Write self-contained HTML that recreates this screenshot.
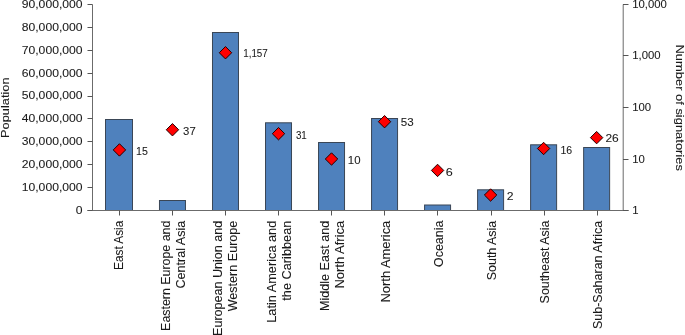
<!DOCTYPE html>
<html><head><meta charset="utf-8"><style>html,body{margin:0;padding:0;background:#fff;width:685px;height:335px;overflow:hidden}svg{display:block}</style></head>
<body>
<svg width="685" height="335" viewBox="0 0 685 335">
<rect width="685" height="335" fill="#fff"/>
<rect x="105.50" y="119.50" width="27.00" height="91.00" fill="#4f81bd" stroke="#3a4656" stroke-width="1"/>
<rect x="159.47" y="200.50" width="26.00" height="10.00" fill="#4f81bd" stroke="#3a4656" stroke-width="1"/>
<rect x="212.49" y="32.50" width="26.00" height="178.00" fill="#4f81bd" stroke="#3a4656" stroke-width="1"/>
<rect x="265.51" y="122.80" width="26.00" height="87.70" fill="#4f81bd" stroke="#3a4656" stroke-width="1"/>
<rect x="318.53" y="142.50" width="26.00" height="68.00" fill="#4f81bd" stroke="#3a4656" stroke-width="1"/>
<rect x="371.55" y="118.50" width="26.00" height="92.00" fill="#4f81bd" stroke="#3a4656" stroke-width="1"/>
<rect x="424.57" y="205.00" width="26.00" height="5.50" fill="#4f81bd" stroke="#3a4656" stroke-width="1"/>
<rect x="477.59" y="189.80" width="26.00" height="20.70" fill="#4f81bd" stroke="#3a4656" stroke-width="1"/>
<rect x="530.61" y="144.80" width="26.00" height="65.70" fill="#4f81bd" stroke="#3a4656" stroke-width="1"/>
<rect x="583.63" y="147.50" width="26.00" height="63.00" fill="#4f81bd" stroke="#3a4656" stroke-width="1"/>
<g stroke="#6b6b6b" stroke-width="1" fill="none">
<line x1="92.5" y1="4.5" x2="92.5" y2="210.5"/>
<line x1="623.2" y1="4.5" x2="623.2" y2="210.5"/>
<line x1="87.5" y1="210.5" x2="628.5" y2="210.5"/>
</g><g stroke="#555" stroke-width="1" fill="none">
<line x1="87.5" y1="4.50" x2="92.5" y2="4.50"/>
<line x1="87.5" y1="27.50" x2="92.5" y2="27.50"/>
<line x1="87.5" y1="50.50" x2="92.5" y2="50.50"/>
<line x1="87.5" y1="73.50" x2="92.5" y2="73.50"/>
<line x1="87.5" y1="96.50" x2="92.5" y2="96.50"/>
<line x1="87.5" y1="118.50" x2="92.5" y2="118.50"/>
<line x1="87.5" y1="141.50" x2="92.5" y2="141.50"/>
<line x1="87.5" y1="164.50" x2="92.5" y2="164.50"/>
<line x1="87.5" y1="187.50" x2="92.5" y2="187.50"/>
<line x1="87.5" y1="210.50" x2="92.5" y2="210.50"/>
<line x1="623.0" y1="4.50" x2="628.5" y2="4.50"/>
<line x1="623.0" y1="55.50" x2="628.5" y2="55.50"/>
<line x1="623.0" y1="107.50" x2="628.5" y2="107.50"/>
<line x1="623.0" y1="159.50" x2="628.5" y2="159.50"/>
<line x1="623.0" y1="210.50" x2="628.5" y2="210.50"/>
<line x1="119.50" y1="210.5" x2="119.50" y2="215.5"/>
<line x1="172.50" y1="210.5" x2="172.50" y2="215.5"/>
<line x1="225.50" y1="210.5" x2="225.50" y2="215.5"/>
<line x1="278.50" y1="210.5" x2="278.50" y2="215.5"/>
<line x1="331.50" y1="210.5" x2="331.50" y2="215.5"/>
<line x1="384.50" y1="210.5" x2="384.50" y2="215.5"/>
<line x1="437.50" y1="210.5" x2="437.50" y2="215.5"/>
<line x1="491.50" y1="210.5" x2="491.50" y2="215.5"/>
<line x1="544.50" y1="210.5" x2="544.50" y2="215.5"/>
<line x1="597.50" y1="210.5" x2="597.50" y2="215.5"/>
</g>
<path d="M119.45 143.73L125.65 149.93L119.45 156.13L113.25 149.93Z" fill="#ff0000" stroke="#220000" stroke-width="1"/>
<path d="M172.47 123.54L178.67 129.74L172.47 135.94L166.27 129.74Z" fill="#ff0000" stroke="#220000" stroke-width="1"/>
<path d="M225.49 46.54L231.69 52.74L225.49 58.94L219.29 52.74Z" fill="#ff0000" stroke="#220000" stroke-width="1"/>
<path d="M278.51 127.49L284.71 133.69L278.51 139.89L272.31 133.69Z" fill="#ff0000" stroke="#220000" stroke-width="1"/>
<path d="M331.53 152.80L337.73 159.00L331.53 165.20L325.33 159.00Z" fill="#ff0000" stroke="#220000" stroke-width="1"/>
<path d="M384.55 115.50L390.75 121.70L384.55 127.90L378.35 121.70Z" fill="#ff0000" stroke="#220000" stroke-width="1"/>
<path d="M437.57 164.23L443.77 170.43L437.57 176.63L431.37 170.43Z" fill="#ff0000" stroke="#220000" stroke-width="1"/>
<path d="M490.59 188.80L496.79 195.00L490.59 201.20L484.39 195.00Z" fill="#ff0000" stroke="#220000" stroke-width="1"/>
<path d="M543.61 142.29L549.81 148.49L543.61 154.69L537.41 148.49Z" fill="#ff0000" stroke="#220000" stroke-width="1"/>
<path d="M596.63 131.43L602.83 137.63L596.63 143.83L590.43 137.63Z" fill="#ff0000" stroke="#220000" stroke-width="1"/>
<g font-family="Liberation Sans, Arial, sans-serif" font-size="10.8" fill="#1a1a1a" stroke="#1a1a1a" stroke-width="0.08">
<text x="136.00" y="154.90" textLength="11.80" lengthAdjust="spacingAndGlyphs">15</text>
<text x="183.10" y="134.70" textLength="12.60" lengthAdjust="spacingAndGlyphs">37</text>
<text x="243.20" y="57.45" textLength="24.60" lengthAdjust="spacingAndGlyphs">1,157</text>
<text x="295.90" y="138.50" textLength="10.90" lengthAdjust="spacingAndGlyphs">31</text>
<text x="347.80" y="163.95" textLength="12.70" lengthAdjust="spacingAndGlyphs">10</text>
<text x="400.80" y="126.45" textLength="12.90" lengthAdjust="spacingAndGlyphs">53</text>
<text x="445.70" y="175.90" textLength="7.00" lengthAdjust="spacingAndGlyphs">6</text>
<text x="506.80" y="200.00" textLength="6.80" lengthAdjust="spacingAndGlyphs">2</text>
<text x="560.50" y="153.65" textLength="11.70" lengthAdjust="spacingAndGlyphs">16</text>
<text x="605.40" y="142.30" textLength="13.30" lengthAdjust="spacingAndGlyphs">26</text>
</g>
<g font-family="Liberation Sans, Arial, sans-serif" font-size="10.8" fill="#1a1a1a" stroke="#1a1a1a" stroke-width="0.08" text-anchor="end" transform="translate(82.6,0) scale(1.127,1)">
<text x="0" y="7.90">90,000,000</text>
<text x="0" y="30.79">80,000,000</text>
<text x="0" y="53.68">70,000,000</text>
<text x="0" y="76.57">60,000,000</text>
<text x="0" y="99.46">50,000,000</text>
<text x="0" y="122.34">40,000,000</text>
<text x="0" y="145.23">30,000,000</text>
<text x="0" y="168.12">20,000,000</text>
<text x="0" y="191.01">10,000,000</text>
<text x="0" y="213.90">0</text>
</g>
<g font-family="Liberation Sans, Arial, sans-serif" font-size="10.8" fill="#1a1a1a" stroke="#1a1a1a" stroke-width="0.08" transform="translate(632.2,0) scale(1.05,1)">
<text x="0" y="8.30">10,000</text>
<text x="0" y="59.30">1,000</text>
<text x="0" y="111.30">100</text>
<text x="0" y="163.30">10</text>
<text x="0" y="214.30">1</text>
</g>
<text font-family="Liberation Sans, Arial, sans-serif" font-size="11.7" fill="#1a1a1a" stroke="#1a1a1a" stroke-width="0.08" textLength="60.4" lengthAdjust="spacingAndGlyphs" transform="translate(9.4,137.9) rotate(-90)">Population</text>
<text font-family="Liberation Sans, Arial, sans-serif" font-size="11.5" fill="#1a1a1a" stroke="#1a1a1a" stroke-width="0.08" textLength="126.4" lengthAdjust="spacingAndGlyphs" transform="translate(675.5,44.5) rotate(90)">Number of signatories</text>
<g font-family="Liberation Sans, Arial, sans-serif" font-size="12.4" fill="#1a1a1a" stroke="#1a1a1a" stroke-width="0.08" text-anchor="end">
<text textLength="49.3" lengthAdjust="spacingAndGlyphs" transform="translate(122.70,220.7) rotate(-90)">East Asia</text>
<text textLength="110.2" lengthAdjust="spacingAndGlyphs" transform="translate(169.95,220.7) rotate(-90)">Eastern Europe and</text>
<text textLength="67.8" lengthAdjust="spacingAndGlyphs" transform="translate(184.70,220.7) rotate(-90)">Central Asia</text>
<text textLength="115.3" lengthAdjust="spacingAndGlyphs" transform="translate(221.90,220.7) rotate(-90)">European Union and</text>
<text textLength="90.6" lengthAdjust="spacingAndGlyphs" transform="translate(236.60,220.7) rotate(-90)">Western Europe</text>
<text textLength="102.1" lengthAdjust="spacingAndGlyphs" transform="translate(276.00,220.7) rotate(-90)">Latin America and</text>
<text textLength="80.0" lengthAdjust="spacingAndGlyphs" transform="translate(290.70,220.7) rotate(-90)">the Caribbean</text>
<text textLength="90.3" lengthAdjust="spacingAndGlyphs" transform="translate(329.00,220.7) rotate(-90)">Middle East and</text>
<text textLength="67.9" lengthAdjust="spacingAndGlyphs" transform="translate(343.70,220.7) rotate(-90)">North Africa</text>
<text textLength="81.8" lengthAdjust="spacingAndGlyphs" transform="translate(389.50,220.7) rotate(-90)">North America</text>
<text textLength="46.2" lengthAdjust="spacingAndGlyphs" transform="translate(442.50,220.7) rotate(-90)">Oceania</text>
<text textLength="59.6" lengthAdjust="spacingAndGlyphs" transform="translate(495.50,220.7) rotate(-90)">South Asia</text>
<text textLength="82.7" lengthAdjust="spacingAndGlyphs" transform="translate(548.70,220.7) rotate(-90)">Southeast Asia</text>
<text textLength="108.4" lengthAdjust="spacingAndGlyphs" transform="translate(601.70,220.7) rotate(-90)">Sub-Saharan Africa</text>
</g>
</svg>
</body></html>
